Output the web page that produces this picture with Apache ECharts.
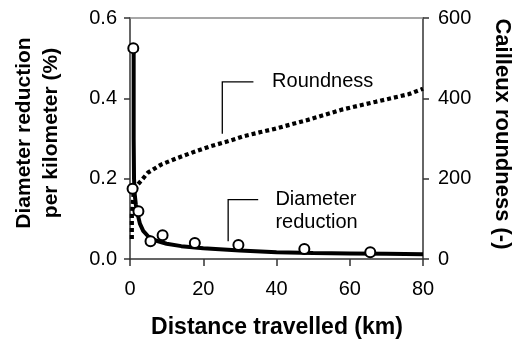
<!DOCTYPE html>
<html>
<head>
<meta charset="utf-8">
<script src="https://cdn.jsdelivr.net/npm/echarts@6/dist/echarts.min.js"></script>
<style>
html,body{margin:0;padding:0;background:#fff;}
#c{width:518px;height:351px;}
</style>
</head>
<body>
<div id="c"></div>
<script>
// ---- data ----
var xTicks = [0, 20, 40, 60, 80];
var leftTicks = [0.0, 0.2, 0.4, 0.6];
var rightTicks = [0, 200, 400, 600];

// observed diameter reduction (circles)
var obsX = [0.9, 0.7, 2.3, 5.6, 8.9, 17.7, 29.6, 47.6, 65.6];
var obsY = [0.525, 0.175, 0.119, 0.044, 0.059, 0.040, 0.035, 0.025, 0.017];

// fitted diameter reduction (solid line)
var fitX = [1.0, 1.0, 1.1, 1.3, 1.6, 2.0, 2.7, 3.6, 5.0, 7.0, 10, 14, 20, 30, 40, 50, 60, 70, 80];
var fitY = [0.525, 0.30, 0.20, 0.16, 0.135, 0.115, 0.088, 0.07, 0.056, 0.046, 0.038, 0.032, 0.027, 0.021, 0.017, 0.015, 0.014, 0.013, 0.012];

// Cailleux roundness (dotted line, right axis)
var rndX = [0.5, 0.5, 1.0, 2.2, 4.9, 8.5, 13.1, 17.6, 22.1, 26.7, 31.2, 35.7, 39.5, 48.8, 57.9, 66.9, 76, 80];
var rndY = [50, 110, 165, 186, 215, 235, 252, 267, 281, 293, 306, 316, 324, 347, 372, 391, 410, 424];

var xTitle = 'Distance travelled (km)';
var leftTitle = 'Diameter reduction\nper kilometer (%)';
var rightTitle = 'Cailleux roundness (-)';
var roundLabel = 'Roundness';
var diamLabel = 'Diameter\nreduction';

function zip(a, b) { return a.map(function (v, i) { return [v, b[i]]; }); }

var FONT = "'Liberation Sans', Arial, Helvetica, sans-serif";
var AX = '#333333';

var chart = echarts.init(document.getElementById('c'), null, {renderer: 'canvas'});

var option = {
  animation: false,
  backgroundColor: '#ffffff',
  grid: {left: 130, right: 95, top: 18, bottom: 92, containLabel: false},
  xAxis: [{
    type: 'value', min: xTicks[0], max: xTicks[xTicks.length - 1], interval: 20,
    splitLine: {show: false},
    axisLine: {show: true, lineStyle: {color: AX, width: 1.5}},
    axisTick: {show: true, inside: false, length: 7, lineStyle: {color: AX, width: 1.5}},
    axisLabel: {color: '#000', fontFamily: FONT, fontSize: 20, margin: 20}
  }, {
    type: 'value', position: 'top', min: 0, max: 80,
    splitLine: {show: false},
    axisLine: {show: true, onZero: false, lineStyle: {color: '#8a8a8a', width: 1.5}},
    axisTick: {show: false}, axisLabel: {show: false}
  }],
  yAxis: [{
    type: 'value', position: 'left', min: 0, max: 0.6, interval: 0.2,
    splitLine: {show: false},
    axisLine: {show: true, onZero: false, lineStyle: {color: AX, width: 1.5}},
    axisTick: {show: true, inside: false, length: 6, lineStyle: {color: AX, width: 1.5}},
    axisLabel: {color: '#000', fontFamily: FONT, fontSize: 20, margin: 13,
      formatter: function (v) { return v.toFixed(1); }}
  }, {
    type: 'value', position: 'right', min: 0, max: 600, interval: 200,
    splitLine: {show: false},
    axisLine: {show: true, onZero: false, lineStyle: {color: AX, width: 1.5}},
    axisTick: {show: true, inside: false, length: 6, lineStyle: {color: AX, width: 1.5}},
    axisLabel: {color: '#000', fontFamily: FONT, fontSize: 20, margin: 15}
  }, {
    type: 'value', position: 'right', min: 0, max: 600, interval: 200,
    splitLine: {show: false},
    axisLine: {show: false},
    axisTick: {show: true, inside: true, length: 4, lineStyle: {color: AX, width: 1.5}},
    axisLabel: {show: false}
  }],
  series: [{
    name: 'Roundness', type: 'line', xAxisIndex: 0, yAxisIndex: 1,
    data: zip(rndX, rndY), showSymbol: false, symbol: 'none', smooth: false,
    lineStyle: {color: '#000', width: 4.2, type: [4, 3], cap: 'butt'}, z: 2
  }, {
    name: 'Fit', type: 'line', xAxisIndex: 0, yAxisIndex: 0,
    data: zip(fitX, fitY), showSymbol: false, symbol: 'none', smooth: false,
    lineStyle: {color: '#000', width: 4}, z: 3
  }, {
    name: 'Observed', type: 'scatter', xAxisIndex: 0, yAxisIndex: 0,
    data: zip(obsX, obsY), symbol: 'circle', symbolSize: 10,
    itemStyle: {color: '#ffffff', opacity: 1, borderColor: '#000', borderWidth: 2}, z: 4
  }]
};
chart.setOption(option);

// annotation anchors (data coordinates, left axis)
var annRound = {vx: 25.2, yBot: 0.312, yTop: 0.441, hx: 33.7, tx: 38.8};
var annDiam = {vx: 26.8, yBot: 0.044, yTop: 0.148, hx: 35.0, tx: 39.7, ty: 0.1195};

function P(x, y) { return chart.convertToPixel({xAxisIndex: 0, yAxisIndex: 0}, [x, y]); }

function leader(a) {
  var b = P(a.vx, a.yBot), t = P(a.vx, a.yTop), h = P(a.hx, a.yTop);
  return {type: 'polyline', shape: {points: [[b[0], b[1]], [t[0], t[1]], [h[0], h[1]]]},
    style: {stroke: '#000', lineWidth: 1.3, fill: null}, z: 10};
}

var rT = P(annRound.tx, annRound.yTop);
var dT = P(annDiam.tx, annDiam.ty);

chart.setOption({
  graphic: [
    leader(annRound), leader(annDiam),
    {type: 'text', x: rT[0], y: rT[1], z: 10,
      style: {text: roundLabel, font: '20px ' + FONT, fill: '#000', textAlign: 'left', textVerticalAlign: 'middle'}},
    {type: 'text', x: dT[0], y: dT[1], z: 10,
      style: {text: diamLabel, font: '20px ' + FONT, lineHeight: 23, fill: '#000', textAlign: 'left', textVerticalAlign: 'middle'}},
    {type: 'text', x: 277, y: 328, z: 10,
      style: {text: xTitle, font: 'bold 23px ' + FONT, fill: '#000', textAlign: 'center', textVerticalAlign: 'middle'}},
    {type: 'text', x: 38, y: 133, rotation: Math.PI / 2, z: 10,
      style: {text: leftTitle, font: 'bold 21px ' + FONT, lineHeight: 27, fill: '#000', textAlign: 'center', textVerticalAlign: 'middle'}},
    {type: 'text', x: 502, y: 134, rotation: -Math.PI / 2, z: 10,
      style: {text: rightTitle, font: 'bold 22px ' + FONT, fill: '#000', textAlign: 'center', textVerticalAlign: 'middle'}}
  ]
});
</script>
</body>
</html>
